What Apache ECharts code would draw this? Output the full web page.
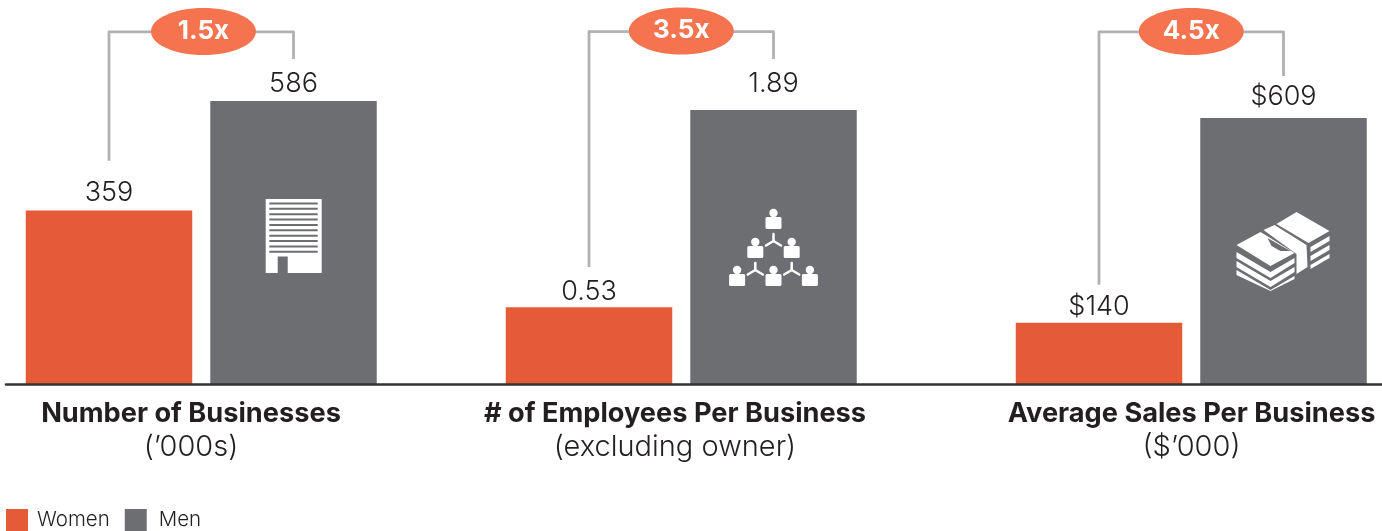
<!DOCTYPE html>
<html><head><meta charset="utf-8">
<style>html,body{margin:0;padding:0;background:#fff}#c{width:1382px;height:531px}</style>
<script src="https://cdn.jsdelivr.net/npm/echarts@6/dist/echarts.min.js"></script>
</head><body><div id="c"></div>
<script>
const groups = ['Women', 'Men'];
const titles = ['Number of Businesses', '# of Employees Per Business', 'Average Sales Per Business'];
const subtitles = ['(’000s)', '(excluding owner)', '($’000)'];
const womenValues = [359, 0.53, 140];
const menValues = [586, 1.89, 609];
const labelPrefix = ['', '', '$'];
const labelDecimals = [0, 2, 0];
const ratios = ['1.5x', '3.5x', '4.5x'];
const axisMax = [795, 2.648, 879];
const bracketTop = [729, 2.43, 806];
const bracketLeftEnd = [462, 0.807, 227];
const bracketRightEnd = [673, 2.241, 705];

const FONT = 'Inter, "Open Sans", sans-serif';
const ORANGE = '#E55B37', GREY = '#6D6E71', PILL = '#F5744F', BRACKET = '#B0B1B3';
const gridLeft = [16.75, 496.75, 1006.75];
const titleCenter = [191, 675, 1191.5];
const pillShift = [2.2, 0, 0];
const womenLabelGap = [4, 2, 2];
const menLabelGap = [4, 13, 8];
const BAND = 184.5 * 2;

function buildingIcon(cx, y0) {
  const ch = [];
  const x = cx - 27.8, y = y0 - 185;
  ch.push({type:'rect', shape:{x, y, width:56, height:74}, style:{fill:'#fff'}});
  for (let i = 0; i < 10; i++) ch.push({type:'rect', shape:{x:x+3.6, y:y+3.5+i*5.37, width:48.4, height:2}, style:{fill:GREY}});
  ch.push({type:'rect', shape:{x:x+12, y:y+57.5, width:10, height:16.5}, style:{fill:GREY}});
  return ch;
}
function person(x, y) {
  return [
    {type:'circle', shape:{cx:x, cy:y-8, r:4.2}, style:{fill:'#fff'}},
    {type:'rect', shape:{x:x-8, y:y-4, width:16, height:12, r:1.5}, style:{fill:'#fff'}}
  ];
}
function tri(x, y) {
  const s = {stroke:'#fff', lineWidth:2.5, fill:null, lineCap:'round'};
  return [
    {type:'line', shape:{x1:x, y1:y-7, x2:x, y2:y}, style:s},
    {type:'line', shape:{x1:x, y1:y, x2:x-7.5, y2:y+4.5}, style:s},
    {type:'line', shape:{x1:x, y1:y, x2:x+7.5, y2:y+4.5}, style:s}
  ];
}
function orgIcon(cx, y0) {
  let ch = [];
  const y = y0 - 384;
  [[0,221],[-18.2,250],[18.2,250],[-36.4,278],[0,278],[36.4,278]].forEach(p => { ch = ch.concat(person(cx+p[0], y+p[1])); });
  [[0,241],[-18.2,270],[18.2,270]].forEach(p => { ch = ch.concat(tri(cx+p[0], y+p[1])); });
  return ch;
}
function moneyIcon(cx, y0) {
  const ox = cx - 1284, oy = y0 - 384;
  const P = pts => pts.map(p => [p[0]+ox, p[1]+oy]);
  const poly = (pts, fill) => ({type:'polygon', shape:{points:P(pts)}, style:{fill:fill || '#fff'}});
  return [
    poly([[1297,212],[1330,231],[1309,243],[1277,224]]),
    poly([[1264,230],[1275,225],[1307,245],[1308,267],[1297,274],[1297,254]]),
    poly([[1237,245],[1261,232],[1295,253],[1271,266]]),
    poly([[1268,238],[1291,251],[1281,251],[1272,246]], GREY),
    poly([[1237,252],[1271,272],[1295,258],[1295,263],[1271,278],[1237,258]]),
    poly([[1237,261],[1271,281],[1295,267],[1295,272],[1271,287],[1237,267]]),
    poly([[1237,270],[1271,290],[1295,276],[1295,279],[1271,291],[1237,275]]),
    poly([[1311,247],[1330,236],[1330,241],[1311,252]]),
    poly([[1311,256],[1330,245],[1330,250],[1311,261]]),
    poly([[1311,265],[1330,254],[1330,258],[1311,269]])
  ];
}
const icons = [buildingIcon, orgIcon, moneyIcon];

const grids = [], xAxes = [], yAxes = [], series = [], titleOpts = [];
titles.forEach((t, i) => {
  grids.push({left: gridLeft[i], top: 0, width: BAND, height: 384});
  xAxes.push({type:'category', gridIndex:i, data:groups, show:false});
  yAxes.push({type:'value', gridIndex:i, min:0, max:axisMax[i], show:false});
  const label = gap => ({
    show:true, position:'top', distance:gap, fontFamily:FONT, fontWeight:300, fontSize:27, color:'#231F20',
    formatter: p => labelPrefix[i] + Number(p.value).toFixed(labelDecimals[i])
  });
  series.push({name:groups[0], type:'bar', xAxisIndex:i, yAxisIndex:i, barWidth:166.5, barGap:'-100%',
    itemStyle:{color:ORANGE}, label:label(womenLabelGap[i]), data:[womenValues[i], null], silent:true, animation:false});
  series.push({name:groups[1], type:'bar', xAxisIndex:i, yAxisIndex:i, barWidth:166.5, barGap:'-100%',
    itemStyle:{color:GREY}, label:label(menLabelGap[i]), data:[null, menValues[i]], silent:true, animation:false});
  series.push({type:'custom', xAxisIndex:i, yAxisIndex:i, silent:true, animation:false, z:5,
    clip:false, encode:{x:0,y:1}, data:[[0, bracketLeftEnd[i]]],
    renderItem:(params, api) => {
      const a = api.coord([0, bracketLeftEnd[i]]);
      const b = api.coord([0, bracketTop[i]]);
      const c = api.coord([1, bracketTop[i]]);
      const d = api.coord([1, bracketRightEnd[i]]);
      const base = api.coord([1, 0]);
      const mx = (a[0]+c[0])/2 + pillShift[i];
      return {type:'group', children:[
        {type:'polyline', shape:{points:[a,b,c,d]}, style:{stroke:BRACKET, lineWidth:2.8, fill:null, lineJoin:'round'}},
        {type:'ellipse', shape:{cx:mx, cy:b[1]-0.5, rx:52.5, ry:23.5}, style:{fill:PILL}},
        {type:'text', style:{x:mx, y:b[1]-1, text:ratios[i], fill:'#fff', fontFamily:FONT, fontWeight:700, fontSize:26, align:'center', verticalAlign:'middle'}},
        {type:'group', children:icons[i](base[0], base[1])}
      ]};
    }});
  titleOpts.push({text:t, subtext:subtitles[i], left:titleCenter[i], top:399, textAlign:'center', itemGap:5,
    textStyle:{fontFamily:FONT, fontWeight:700, fontSize:27.2, color:'#231F20', lineHeight:29},
    subtextStyle:{fontFamily:FONT, fontWeight:300, fontSize:29, color:'#231F20', lineHeight:29}, padding:0});
});
// full-width baseline
grids.push({left:6, right:0, top:0, height:384});
xAxes.push({type:'value', gridIndex:3, min:0, max:1, axisLine:{show:true, onZero:false, lineStyle:{color:'#333335', width:2.6}}, axisTick:{show:false}, axisLabel:{show:false}, splitLine:{show:false}, z:10});
yAxes.push({type:'value', gridIndex:3, min:0, max:1, show:false});

const chart = echarts.init(document.getElementById('c'), null, {renderer:'canvas'});
chart.setOption({
  animation:false, backgroundColor:'#fff',
  title:titleOpts, grid:grids, xAxis:xAxes, yAxis:yAxes, series,
  legend:{data:[{name:groups[0]}, {name:groups[1], textStyle:{padding:[4,0,0,7]}}], left:6, top:509, padding:0, itemWidth:22, itemHeight:22, itemGap:15, icon:'rect',
    selectedMode:false, textStyle:{fontFamily:FONT, fontWeight:300, fontSize:20.5, color:'#231F20', padding:[4,0,0,4]}}
});
</script></body></html>
